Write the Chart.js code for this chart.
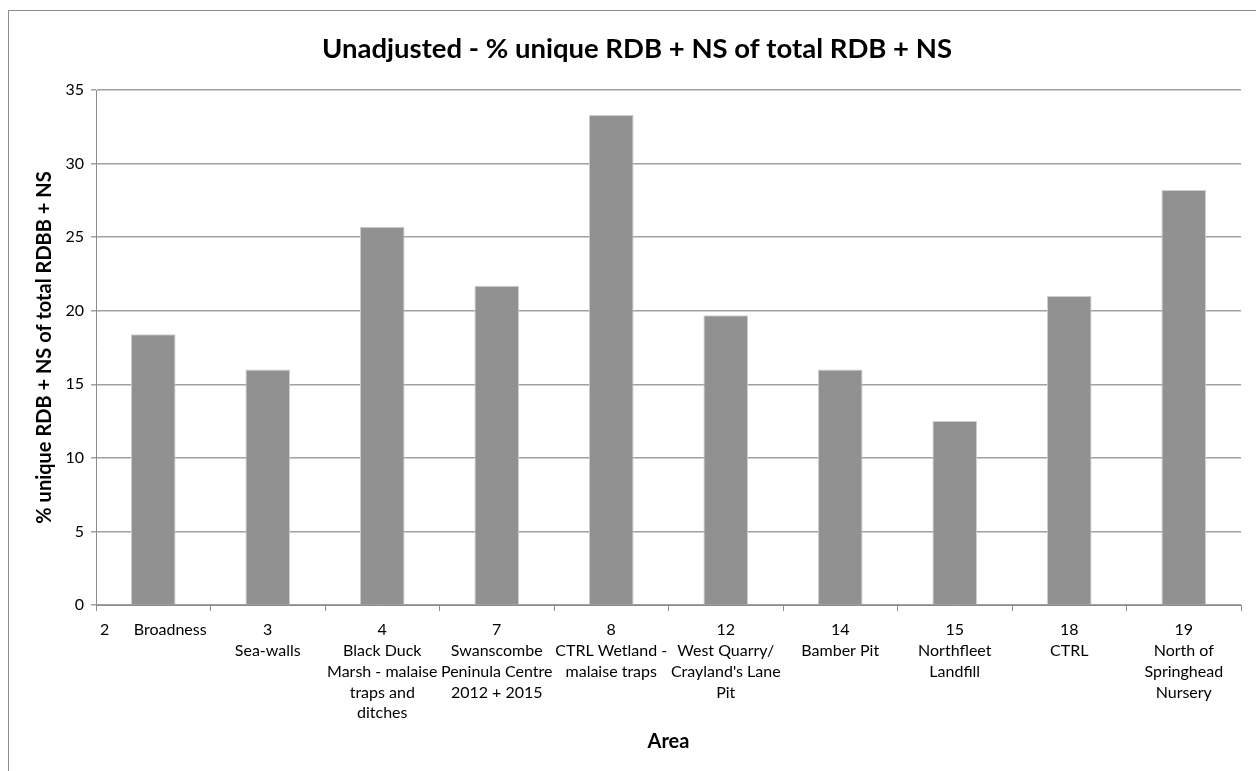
<!DOCTYPE html>
<html>
<head>
<meta charset="utf-8">
<title>Unadjusted - % unique RDB + NS of total RDB + NS</title>
<script src="https://cdn.jsdelivr.net/npm/chart.js@4"></script>
<style>
    body { margin: 0; background: #fff; }
    canvas { display: block; }
</style>
</head>
<body>
<canvas id="areaChart" width="1256" height="771"></canvas>
<script>
// category labels, one array per wrapped label
const areaLabels = [
    ['2      Broadness'],
    ['3', 'Sea-walls'],
    ['4', 'Black Duck', 'Marsh - malaise', 'traps and', 'ditches'],
    ['7', 'Swanscombe', 'Peninula Centre', '2012 + 2015'],
    ['8', 'CTRL Wetland -', 'malaise traps'],
    ['12', 'West Quarry/', "Crayland's Lane", 'Pit'],
    ['14', 'Bamber Pit'],
    ['15', 'Northfleet', 'Landfill'],
    ['18', 'CTRL'],
    ['19', 'North of', 'Springhead', 'Nursery']
];

// % unique RDB + NS
const uniquePct = [18.4, 16.0, 25.7, 21.7, 33.3, 19.7, 16.0, 12.5, 21.0, 28.2];

const yMin = 0;
const yMax = 35;
const yStep = 5;

const chartTitle = 'Unadjusted - % unique RDB + NS of total RDB + NS';
const yTitle = '% unique RDB + NS of total RDBB + NS';
const xTitle = 'Area';

const fontName = 'Lato, "Open Sans", sans-serif';

// white page with the grey frame round the chart
const frame = {
    id: 'frame',
    beforeDraw(chart) {
        const ctx = chart.ctx;
        ctx.save();
        ctx.fillStyle = '#ffffff';
        ctx.fillRect(0, 0, chart.width, chart.height);
        ctx.strokeStyle = '#8c8c8c';
        ctx.lineWidth = 1;
        ctx.strokeRect(8.5, 10.5, chart.width + 20, chart.height + 20);
        ctx.restore();
    }
};

const ctx = document.getElementById('areaChart').getContext('2d');

new Chart(ctx, {
    type: 'bar',
    data: {
        labels: areaLabels,
        datasets: [{
            data: uniquePct,
            backgroundColor: '#919191',
            borderColor: '#cfcfcf',
            borderWidth: 1,
            barPercentage: 0.39,
            categoryPercentage: 1.0
        }]
    },
    options: {
        responsive: false,
        animation: false,
        layout: {
            padding: { left: 33, right: 15, top: 0, bottom: 0 }
        },
        plugins: {
            legend: { display: false },
            tooltip: { enabled: false },
            title: {
                display: true,
                text: chartTitle,
                color: '#000',
                font: { family: fontName, size: 27.5, weight: 'bold' },
                padding: { top: 33, bottom: 24 }
            }
        },
        scales: {
            x: {
                grid: {
                    offset: true,
                    drawOnChartArea: false,
                    color: '#8c8c8c',
                    tickLength: 6
                },
                border: { color: '#8c8c8c', width: 1 },
                ticks: {
                    color: '#000',
                    font: { family: fontName, size: 16, lineHeight: 1.31 },
                    autoSkip: false,
                    maxRotation: 0,
                    minRotation: 0,
                    padding: 8
                },
                title: {
                    display: true,
                    text: xTitle,
                    color: '#000',
                    font: { family: fontName, size: 20, weight: 'bold' },
                    padding: { top: 0, bottom: 17 }
                },
                afterFit(scale) {
                    scale.height = 166;
                }
            },
            y: {
                min: yMin,
                max: yMax,
                ticks: {
                    stepSize: yStep,
                    color: '#000',
                    font: { family: fontName, size: 16 },
                    padding: 7
                },
                grid: {
                    color: '#a0a0a0',
                    lineWidth: 1.5,
                    tickLength: 5
                },
                border: { color: '#8c8c8c', width: 1 },
                title: {
                    display: true,
                    text: yTitle,
                    color: '#000',
                    font: { family: fontName, size: 20, weight: 'bold' },
                    padding: { top: 0, bottom: 0 }
                },
                afterFit(scale) {
                    scale.width = 63;
                }
            }
        }
    },
    plugins: [frame]
});
</script>
</body>
</html>
